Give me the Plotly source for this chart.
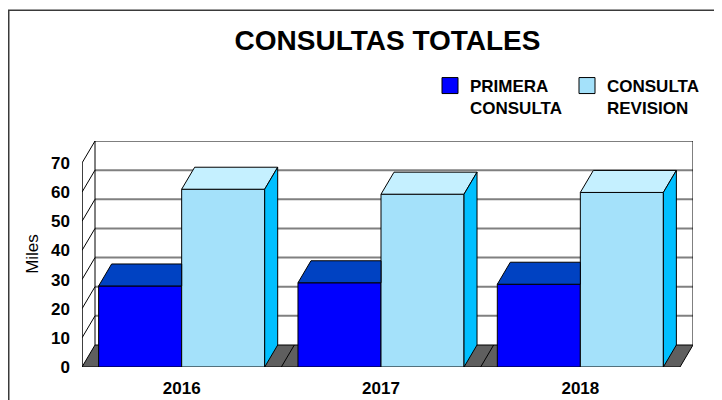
import plotly.graph_objects as go

# ---- data ----
years = ["2016", "2017", "2018"]
primera = [27.8, 28.9, 28.4]
revision = [61.0, 59.3, 59.9]
y_ticks = [0, 10, 20, 30, 40, 50, 60, 70]
series_names = ["PRIMERA<br>CONSULTA", "CONSULTA<br>REVISION"]

# ---- geometry / style ----
# the page body has an 8px margin, so the figure is 8px smaller than the window
W, H = 714, 392
ML, MR, MT, MB = 74, 29, 133, 33
FONT = "Liberation Sans, Arial, sans-serif"
bargap = 0.167
bw = (1 - bargap) / 2
ddx = 0.0652          # depth offset in x (category units)
ddy = 7.55            # depth offset in y (value units)
ymax = y_ticks[-1]
xs = list(range(len(years)))
xl, xr = -0.5, len(years) - 0.5

c_prim_front, c_prim_top = "#0000FF", "#0042C2"
c_rev_front, c_rev_top, c_rev_side = "#A4E1FA", "#C5F0FF", "#00BFFF"
floor_col = "#5F5F5F"
grid_col = "#808080"

fig = go.Figure()

shapes = []
# floor
shapes.append(dict(type="path", layer="below",
                   path=f"M{xl},0 L{xr},0 L{xr+ddx},{ddy} L{xl+ddx},{ddy} Z",
                   fillcolor=floor_col, line=dict(color="black", width=1)))
# category divider lines on floor
for i in range(1, len(years)):
    xb = i - 0.5
    shapes.append(dict(type="line", layer="below", x0=xb, y0=0, x1=xb + ddx, y1=ddy,
                       line=dict(color="black", width=1)))
# back wall gridlines
for v in y_ticks[1:-1]:
    shapes.append(dict(type="line", layer="below", x0=xl + ddx, y0=v + ddy, x1=xr + ddx, y1=v + ddy,
                       line=dict(color=grid_col, width=2)))
# back wall top and right edges
shapes.append(dict(type="line", layer="below", x0=xl + ddx, y0=ymax + ddy, x1=xr + ddx, y1=ymax + ddy,
                   line=dict(color="black", width=1)))
shapes.append(dict(type="line", layer="below", x0=xr + ddx, y0=ddy, x1=xr + ddx, y1=ymax + ddy,
                   line=dict(color="black", width=1)))
# left wall: back vertical, diagonals, front axis
shapes.append(dict(type="line", layer="below", x0=xl + ddx, y0=ddy, x1=xl + ddx, y1=ymax + ddy,
                   line=dict(color="black", width=1)))
for v in y_ticks[1:]:
    shapes.append(dict(type="line", layer="below", x0=xl, y0=v, x1=xl + ddx, y1=v + ddy,
                       line=dict(color="black", width=1)))
shapes.append(dict(type="line", layer="below", x0=xl, y0=0, x1=xl, y1=ymax,
                   line=dict(color="black", width=1.5)))

# outer frame (paper coords, extends beyond the window on the right/bottom)
pw, ph = W - ML - MR, H - MT - MB
def px_to_paper_x(px):
    return (px - ML) / pw
def px_to_paper_y(py):
    return (H - MB - py) / ph
shapes.append(dict(type="rect", xref="paper", yref="paper", layer="below",
                   x0=px_to_paper_x(0.75), y0=px_to_paper_y(430),
                   x1=px_to_paper_x(760), y1=px_to_paper_y(2.25),
                   line=dict(color="#3a3a3a", width=1.5), fillcolor="rgba(0,0,0,0)"))

# front faces as bars
fronts = [c_prim_front, c_rev_front]
fig.add_trace(go.Bar(x=xs, y=primera, width=bw, offset=-bw, name=series_names[0],
                     legendgroup="p", showlegend=False,
                     marker=dict(color=c_prim_front, line=dict(color="black", width=1))))
fig.add_trace(go.Bar(x=xs, y=revision, width=bw, offset=0, name=series_names[1],
                     legendgroup="r", showlegend=False,
                     marker=dict(color=c_rev_front, line=dict(color="black", width=1))))

def poly(xp, yp, color):
    fig.add_trace(go.Scatter(x=xp + [xp[0]], y=yp + [yp[0]], mode="lines", fill="toself",
                             fillcolor=color, line=dict(color="black", width=1),
                             hoverinfo="skip", showlegend=False))

for i, x in enumerate(xs):
    # PRIMERA top (clipped behind the REVISION front face)
    x0, x1 = x - bw, x
    v = primera[i]
    poly([x0, x1, x1, x0 + ddx], [v, v, v + ddy, v + ddy], c_prim_top)
    # REVISION top and side
    x0, x1 = x, x + bw
    v = revision[i]
    poly([x0, x1, x1 + ddx, x0 + ddx], [v, v, v + ddy, v + ddy], c_rev_top)
    poly([x1, x1, x1 + ddx, x1 + ddx], [0, v, v + ddy, ddy], c_rev_side)

# legend keys (larger square swatches than the default bar key)
for name, col, grp in zip(series_names, fronts, ["p", "r"]):
    fig.add_trace(go.Scatter(x=[None], y=[None], mode="markers", name=name, legendgroup=grp,
                             marker=dict(symbol="square", size=16, color=col,
                                         line=dict(color="black", width=1)),
                             hoverinfo="skip"))

fig.update_layout(
    width=W, height=H,
    margin=dict(l=ML, r=MR, t=MT, b=MB, pad=0, autoexpand=False),
    paper_bgcolor="white", plot_bgcolor="white",
    barmode="overlay",
    shapes=shapes,
    font=dict(family=FONT, color="black", size=17),
    title=dict(text="CONSULTAS TOTALES", x=0.5, xref="paper", y=1 - 32 / H, yref="container",
               xanchor="center", yanchor="middle",
               font=dict(family=FONT, size=28, weight="bold", color="black")),
    legend=dict(orientation="h", xref="container", yref="container",
                x=422 / W, y=1 - 60 / H, xanchor="left", yanchor="top",
                valign="top", entrywidth=92, entrywidthmode="pixels",
                font=dict(family=FONT, size=17, weight="bold", color="black"),
                bgcolor="rgba(0,0,0,0)", itemclick=False, itemdoubleclick=False),
    showlegend=True,
)
fig.update_xaxes(range=[xl, xr + ddx], tickvals=xs, ticktext=years, showgrid=False,
                 zeroline=False, showline=False, ticks="", ticklabelstandoff=9,
                 automargin=False,
                 tickfont=dict(family=FONT, size=17, weight="bold", color="black"),
                 fixedrange=True)
fig.update_yaxes(range=[0, ymax + ddy], tickvals=y_ticks, showgrid=False, zeroline=False,
                 showline=False, ticks="", ticklabelstandoff=11, automargin=False,
                 tickfont=dict(family=FONT, size=17, weight="bold", color="black"),
                 title=dict(text="Miles", standoff=8,
                            font=dict(family=FONT, size=17, color="black")),
                 fixedrange=True)

fig.write_html("out.html", config={"displayModeBar": False})
